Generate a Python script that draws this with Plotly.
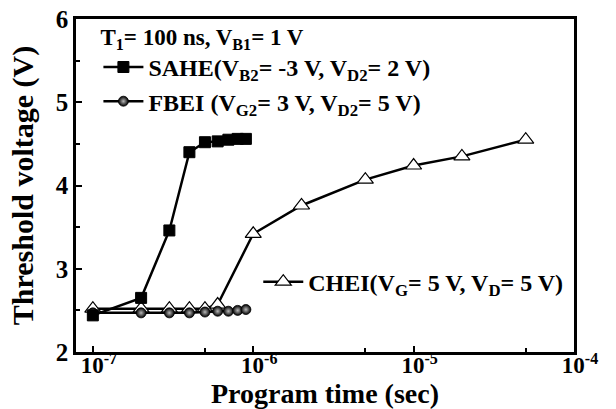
import plotly.graph_objects as go

# ---- data ----
sahe_t = [1e-7, 2e-7, 3e-7, 4e-7, 5e-7, 6e-7, 7e-7, 8e-7, 9e-7]
sahe_v = [2.44, 2.65, 3.46, 4.40, 4.52, 4.53, 4.55, 4.56, 4.56]

fbei_t = [1e-7, 2e-7, 3e-7, 4e-7, 5e-7, 6e-7, 7e-7, 8e-7, 9e-7]
fbei_v = [2.47, 2.47, 2.47, 2.47, 2.48, 2.49, 2.49, 2.50, 2.51]

chei_t = [1e-7, 2e-7, 3e-7, 4e-7, 5e-7, 6e-7, 1e-6, 2e-6, 5e-6, 1e-5, 2e-5, 5e-5]
chei_v = [2.52, 2.52, 2.52, 2.52, 2.52, 2.57, 3.42, 3.76, 4.07, 4.24, 4.35, 4.55]

x_tickvals = [1e-7, 1e-6, 1e-5, 1e-4]
x_ticktext = ["10<sup>-7</sup>", "10<sup>-6</sup>", "10<sup>-5</sup>", "10<sup>-4</sup>"]
x_minor = [5e-7, 5e-6, 5e-5]

FONT = "Liberation Serif, Times New Roman, serif"
LEG = 24

def F(size):
    return dict(family=FONT, size=size, weight="bold", color="black")

fig = go.Figure()

fig.add_trace(go.Scatter(
    x=chei_t, y=chei_v, mode="lines+markers",
    name="CHEI(V<sub>G</sub>= 5 V, V<sub>D</sub>= 5 V)",
    line=dict(color="black", width=2.5),
    marker=dict(symbol="triangle-up", size=14, color="white",
                line=dict(color="black", width=1.2)),
    legend="legend2",
))
fig.add_trace(go.Scatter(
    x=fbei_t, y=fbei_v, mode="lines+markers",
    name="FBEI (V<sub>G2</sub>= 3 V, V<sub>D2</sub>= 5 V)",
    line=dict(color="black", width=2.5),
    marker=dict(symbol="circle", size=10, color="black",
                gradient=dict(type="radial", color="#b8b8b8"),
                line=dict(color="black", width=0.8)),
    legend="legend", legendrank=2,
))
fig.add_trace(go.Scatter(
    x=sahe_t, y=sahe_v, mode="lines+markers",
    name="SAHE(V<sub>B2</sub>= -3 V, V<sub>D2</sub>= 2 V)",
    line=dict(color="black", width=2.5),
    marker=dict(symbol="square", size=11, color="black",
                line=dict(color="black", width=1)),
    legend="legend", legendrank=1,
))

fig.update_layout(
    width=616, height=409,
    margin=dict(l=76, r=42, t=19, b=57),
    paper_bgcolor="white", plot_bgcolor="white",
    font=F(LEG),
    showlegend=True,
    legend=dict(
        x=0.045, y=1.012, xanchor="left", yanchor="top",
        bgcolor="rgba(0,0,0,0)", borderwidth=0,
        title=dict(text="T<sub>1</sub>= 100 ns, V<sub>B1</sub>= 1 V",
                   font=F(23), side="top"),
        font=F(LEG),
        traceorder="normal", itemwidth=40,
    ),
    legend2=dict(
        x=0.366, y=0.21, xanchor="left", yanchor="middle",
        bgcolor="rgba(0,0,0,0)", borderwidth=0,
        font=F(LEG),
        itemwidth=40,
    ),
    xaxis=dict(
        type="log", range=[-7.105, -4.0], automargin=False,
        tickvals=x_tickvals, ticktext=x_ticktext,
        ticks="inside", ticklen=6, tickwidth=2, tickcolor="black",
        ticklabelstandoff=-9, ticklabelshift=6,
        minor=dict(tickvals=x_minor, ticks="inside", ticklen=4, tickwidth=2, tickcolor="black"),
        showline=True, linewidth=2.5, linecolor="black", mirror=True,
        showgrid=False, zeroline=False,
        tickfont=F(23),
        title=dict(text="Program time (sec)", font=F(28), standoff=6),
    ),
    yaxis=dict(
        range=[2, 6], tickvals=[2, 3, 4, 5, 6], automargin=False,
        ticks="inside", ticklen=6, tickwidth=2, tickcolor="black",
        minor=dict(dtick=0.5, ticks="inside", ticklen=4, tickwidth=2, tickcolor="black"),
        showline=True, linewidth=2.5, linecolor="black", mirror=True,
        showgrid=False, zeroline=False,
        tickfont=F(25),
        title=dict(text="Threshold voltage (V)", font=F(30), standoff=14),
    ),
)

fig.write_html("out.html")
